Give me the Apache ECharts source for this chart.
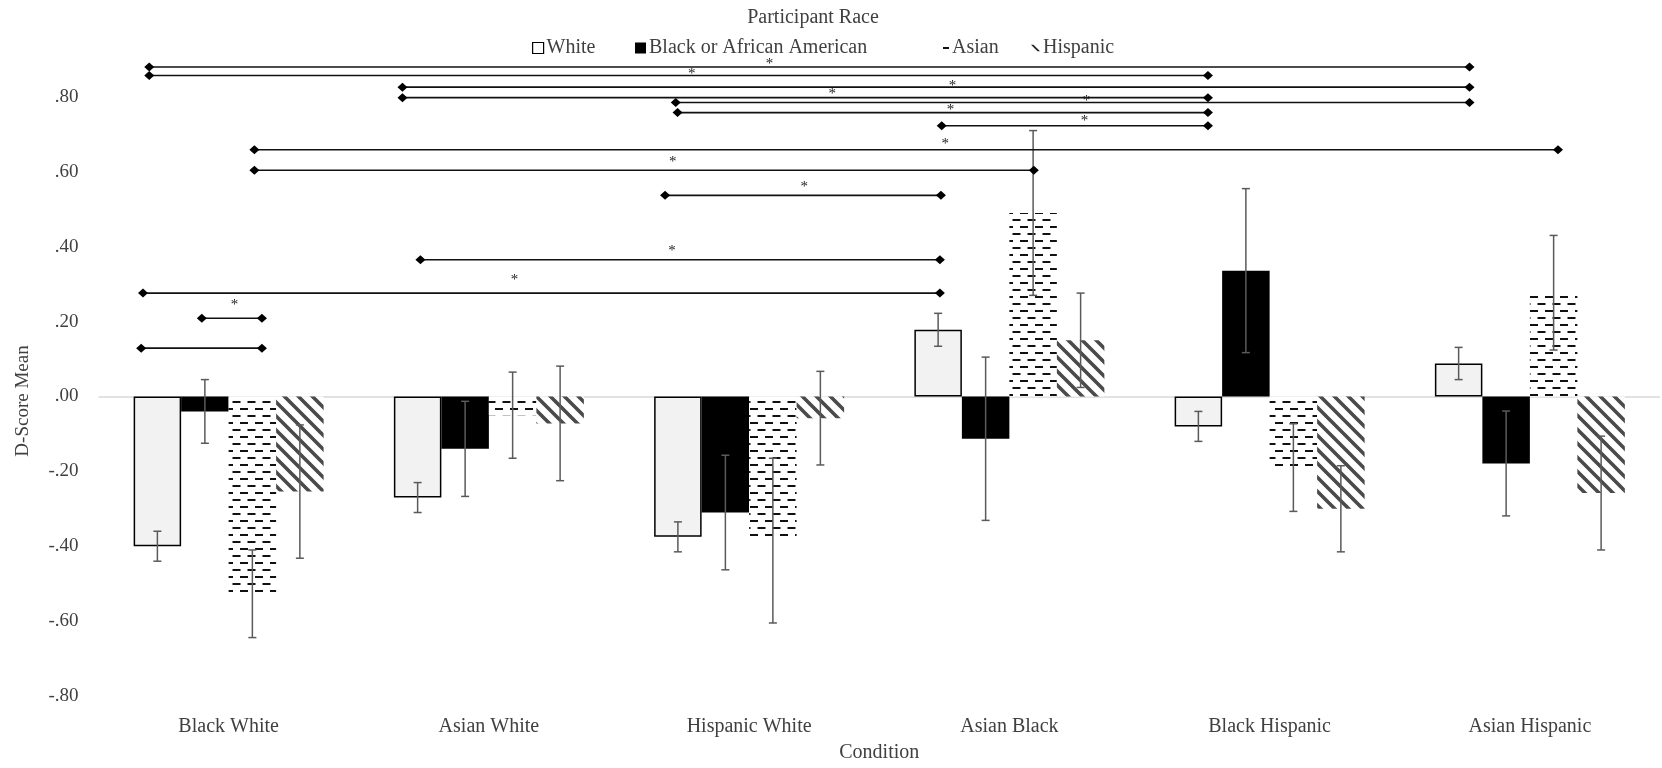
<!DOCTYPE html>
<html>
<head>
<meta charset="utf-8">
<script src="https://cdn.jsdelivr.net/npm/echarts@6/dist/echarts.min.js"></script>
<style>
html,body{margin:0;padding:0;background:#fff;}
#chart{width:1662px;height:768px;}
</style>
</head>
<body>
<div id="chart"></div>
<script>
// ---------------- data ----------------
const categories = ['Black White', 'Asian White', 'Hispanic White', 'Asian Black', 'Black Hispanic', 'Asian Hispanic'];
const seriesNames = ['White', 'Black or African American', 'Asian', 'Hispanic'];

const whiteMean = [-0.400, -0.270, -0.375, 0.178, -0.080, 0.088];
const whiteErr  = [0.040, 0.040, 0.040, 0.044, 0.040, 0.043];
const blackMean = [-0.040, -0.140, -0.310, -0.113, 0.336, -0.179];
const blackErr  = [0.085, 0.127, 0.153, 0.218, 0.219, 0.140];
const asianMean = [-0.527, -0.050, -0.385, 0.490, -0.190, 0.277];
const asianErr  = [0.117, 0.115, 0.220, 0.220, 0.117, 0.153];
const hispMean  = [-0.254, -0.072, -0.058, 0.150, -0.300, -0.258];
const hispErr   = [0.178, 0.153, 0.125, 0.126, 0.115, 0.152];

// significance brackets (category-axis units, value-axis units)
const bracketFrom = [-0.305, -0.305, 0.668, 0.668, 1.718, 1.725, 2.740, 0.099, 0.099, 1.677, 0.737, -0.329, -0.103, -0.336];
const bracketTo   = [4.768, 3.763, 4.768, 3.763, 4.768, 3.763, 3.763, 5.108, 3.094, 2.737, 2.733, 2.733, 0.128, 0.128];
const bracketY    = [0.880, 0.857, 0.826, 0.798, 0.785, 0.758, 0.723, 0.659, 0.604, 0.537, 0.365, 0.276, 0.209, 0.129];
const starX = [2.078, 1.780, 2.781, 2.319, 3.296, 2.774, 3.289, 2.754, 1.707, 2.212, 1.704, 1.098, 0.023];
const starY = [0.896, 0.869, 0.838, 0.816, 0.796, 0.774, 0.743, 0.683, 0.634, 0.568, 0.397, 0.318, 0.253];

const yMin = -0.8, yMax = 1.0, yStep = 0.2;

// ---------------- styling helpers ----------------
const FONT = 'Liberation Serif';
const TXT = '#404040';

function asianPattern() {
  const c = document.createElement('canvas');
  c.width = 15; c.height = 14;
  const g = c.getContext('2d');
  g.fillStyle = '#fff'; g.fillRect(0, 0, 15, 14);
  g.fillStyle = '#111';
  g.fillRect(0, 2, 8, 2);
  g.fillRect(7.5, 9, 8, 2);
  g.fillRect(-7.5, 9, 8, 2);
  return c;
}
function hispPattern() {
  const s = 14;
  const c = document.createElement('canvas');
  c.width = s; c.height = s;
  const g = c.getContext('2d');
  g.fillStyle = '#fff'; g.fillRect(0, 0, s, s);
  g.strokeStyle = '#4a4a4a'; g.lineWidth = 3.6;
  g.beginPath();
  g.moveTo(-2, -2); g.lineTo(s + 2, s + 2);
  g.moveTo(-2, s - 2); g.lineTo(2, s + 2);
  g.moveTo(s - 2, -2); g.lineTo(s + 2, 2);
  g.stroke();
  return c;
}

const barStyles = [
  { color: '#f2f2f2', borderColor: '#000', borderWidth: 1.5 },
  { color: '#000' },
  { color: { image: asianPattern(), repeat: 'repeat' } },
  { color: { image: hispPattern(), repeat: 'repeat' } }
];
const means = [whiteMean, blackMean, asianMean, hispMean];
const errs = [whiteErr, blackErr, asianErr, hispErr];
const GAP = 0.27;

function fmt(v) {
  if (v > 0.85) return '';
  const s = Math.abs(v).toFixed(2).replace(/^0/, '');
  return (v < -1e-9 ? '-' : '') + s;
}

function catPx(api, c, y) {
  const base = api.coord([0, y]);
  const band = api.size([1, 0])[0];
  return [base[0] + c * band, base[1]];
}

const series = [];
seriesNames.forEach((name, k) => {
  const s = {
    name: name,
    type: 'bar',
    barGap: '0%',
    barCategoryGap: (GAP * 100) + '%',
    data: means[k],
    itemStyle: barStyles[k],
    silent: true,
    z: 2
  };
  if (k === 0) {
    s.markLine = {
      silent: true, symbol: ['none', 'none'], label: { show: false },
      lineStyle: { color: '#d9d9d9', width: 1.5, type: 'solid' },
      data: [{ yAxis: 0 }], z: 1
    };
  }
  series.push(s);
});

// error bars
seriesNames.forEach((name, k) => {
  series.push({
    type: 'custom',
    name: name + ' error',
    silent: true,
    z: 5,
    data: means[k].map((m, i) => [i, m]),
    encode: { x: 0, y: 1 },
    renderItem: function (params, api) {
      const i = params.dataIndex;
      const band = api.size([1, 0])[0];
      const bw = band * (1 - GAP) / 4;
      const cx = api.coord([api.value(0), 0])[0] + (k - 1.5) * bw;
      const m = api.value(1), e = errs[k][i];
      const yT = api.coord([0, m + e])[1];
      const yB = api.coord([0, m - e])[1];
      const st = { stroke: '#5a5a5a', lineWidth: 1.5 };
      const cw = 4;
      return {
        type: 'group',
        children: [
          { type: 'line', shape: { x1: cx, y1: yT, x2: cx, y2: yB }, style: st },
          { type: 'line', shape: { x1: cx - cw, y1: yT, x2: cx + cw, y2: yT }, style: st },
          { type: 'line', shape: { x1: cx - cw, y1: yB, x2: cx + cw, y2: yB }, style: st }
        ]
      };
    }
  });
});

// significance brackets
series.push({
  type: 'custom',
  name: 'brackets',
  silent: true,
  z: 6,
  data: bracketY.map(y => [0, y]),
  encode: { x: 0, y: 1 },
  renderItem: function (params, api) {
    const i = params.dataIndex;
    const y = api.value(1);
    const p1 = catPx(api, bracketFrom[i], y);
    const p2 = catPx(api, bracketTo[i], y);
    const d = 5, h = 4.5;
    const diamond = (p) => ({
      type: 'polygon',
      shape: { points: [[p[0] - d, p[1]], [p[0], p[1] - h], [p[0] + d, p[1]], [p[0], p[1] + h]] },
      style: { fill: '#000' }
    });
    return {
      type: 'group',
      children: [
        { type: 'line', shape: { x1: p1[0], y1: p1[1], x2: p2[0], y2: p2[1] }, style: { stroke: '#111', lineWidth: 1.6 } },
        diamond(p1), diamond(p2)
      ]
    };
  }
});

// asterisks
series.push({
  type: 'custom',
  name: 'stars',
  silent: true,
  z: 7,
  data: starY.map(y => [0, y]),
  encode: { x: 0, y: 1 },
  renderItem: function (params, api) {
    const i = params.dataIndex;
    const p = catPx(api, starX[i], api.value(1));
    return {
      type: 'text',
      style: {
        text: '*', x: p[0], y: p[1] + 3, align: 'center', verticalAlign: 'middle',
        font: '15px "' + FONT + '"', fill: '#222'
      }
    };
  }
});

const chart = echarts.init(document.getElementById('chart'), null, { renderer: 'canvas' });

const legendLeft = [527, 630, 938, 1026];
const legendIcons = [
  { icon: 'rect', itemStyle: { color: '#fff', borderColor: '#000', borderWidth: 1.2 }, w: 11, h: 11 },
  { icon: 'rect', itemStyle: { color: '#000' }, w: 11, h: 11 },
  { icon: 'rect', itemStyle: { color: '#111' }, w: 6, h: 2 },
  { icon: 'path://M0,0L3,0L11,8L8,8Z', itemStyle: { color: '#222' }, w: 9, h: 7 }
];

chart.setOption({
  animation: false,
  backgroundColor: '#fff',
  textStyle: { fontFamily: FONT },
  grid: { left: 98.5, right: 2, top: 22, bottom: 64, containLabel: false },
  graphic: [{
    type: 'text', x: 813, y: 18,
    style: { text: 'Participant Race', font: '20px "' + FONT + '"', fill: TXT, align: 'center', verticalAlign: 'middle' }
  }, {
    type: 'text', x: 23, y: 401, rotation: Math.PI / 2,
    style: { text: 'D-Score Mean', font: '19px "' + FONT + '"', fill: TXT, align: 'center', verticalAlign: 'middle' }
  }],
  legend: seriesNames.map((n, k) => ({
    data: [{ name: n, icon: legendIcons[k].icon, itemStyle: legendIcons[k].itemStyle }],
    left: legendLeft[k], top: 33,
    itemWidth: legendIcons[k].w, itemHeight: legendIcons[k].h,
    selectedMode: false,
    textStyle: { fontFamily: FONT, fontSize: 20, color: TXT, padding: [0, 0, 0, -2] }
  })),
  xAxis: {
    type: 'category',
    data: categories,
    axisLine: { show: false, onZero: false },
    axisTick: { show: false },
    splitLine: { show: false },
    axisLabel: { margin: 21, fontFamily: FONT, fontSize: 20, color: TXT },
    name: 'Condition',
    nameLocation: 'middle',
    nameGap: 47,
    nameTextStyle: { fontFamily: FONT, fontSize: 20, color: TXT }
  },
  yAxis: {
    type: 'value',
    min: yMin, max: yMax, interval: yStep,
    axisLine: { show: false },
    axisTick: { show: false },
    splitLine: { show: false },
    axisLabel: { formatter: fmt, margin: 20, fontFamily: FONT, fontSize: 19, color: TXT }
  },
  series: series
});
</script>
</body>
</html>
